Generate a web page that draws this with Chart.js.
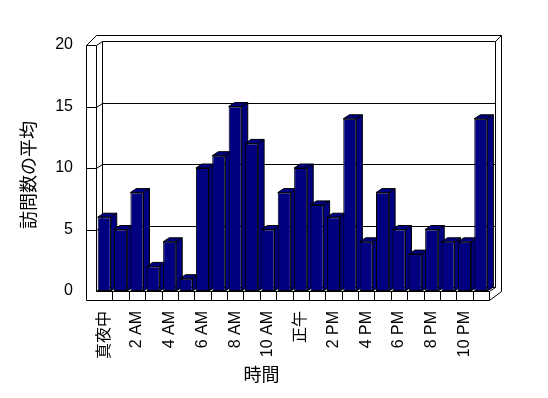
<!DOCTYPE html>
<html><head><meta charset="utf-8">
<script src="https://cdn.jsdelivr.net/npm/chart.js@4"></script>
<style>html,body{margin:0;padding:0;background:#fff;}canvas{display:block;}</style>
</head><body>
<canvas id="c" width="548" height="398"></canvas>
<script>
const categories = ['真夜中','1 AM','2 AM','3 AM','4 AM','5 AM','6 AM','7 AM','8 AM','9 AM','10 AM','11 AM','正午','1 PM','2 PM','3 PM','4 PM','5 PM','6 PM','7 PM','8 PM','9 PM','10 PM','11 PM'];
const visits = [6,5,8,2,4,1,10,11,15,12,5,8,10,7,6,14,4,8,5,3,5,4,4,14];
const yTickValues = [0,5,10,15,20];
const xTitle = '時間';
const yTitle = '訪問数の平均';

const LATIN = "'Liberation Sans', 'Noto Sans CJK JP', sans-serif";
const CJK = "'Noto Sans CJK JP', sans-serif";
const NAVY = '#000080';
const DX = 6, DY = -4;

function ln(ctx, x1, y1, x2, y2) {
  ctx.beginPath();
  ctx.moveTo(Math.round(x1) + 0.5, Math.round(y1) + 0.5);
  ctx.lineTo(Math.round(x2) + 0.5, Math.round(y2) + 0.5);
  ctx.stroke();
}

const box3d = {
  id: 'box3d',
  beforeDatasetsDraw(chart) {
    const { ctx, chartArea: a, scales: { y } } = chart;
    const L = a.left, R = a.right, T = a.top, B = a.bottom;
    const wallW = 10, floorH = 9;
    const outerTop = T + DY - 6;
    const outerRight = R + DX + 6;
    ctx.save();
    ctx.strokeStyle = '#000';
    ctx.lineWidth = 1;
    // left wall front face
    ln(ctx, L - wallW, T, L - wallW, B + floorH);
    ln(ctx, L, T, L, B);
    ln(ctx, L - wallW, T, L, T);
    // outer top
    ln(ctx, L - wallW, T, L, outerTop);
    ln(ctx, L, outerTop, outerRight, outerTop);
    ln(ctx, R + DX, T + DY, outerRight, outerTop);
    ln(ctx, outerRight, outerTop, outerRight, B);
    ln(ctx, outerRight, B, R, B + floorH);
    // back wall
    ln(ctx, L, T, L + DX, T + DY);
    ln(ctx, L + DX, T + DY, R + DX, T + DY);
    ln(ctx, L + DX, T + DY, L + DX, B + DY);
    ln(ctx, R + DX, T + DY, R + DX, B + DY);
    ln(ctx, L + DX, B + DY, R + DX, B + DY);
    ln(ctx, L, B, L + DX, B + DY);
    ln(ctx, R, B, R + DX, B + DY);
    // floor
    ln(ctx, L, B, R, B);
    ln(ctx, L - wallW, B + floorH, R, B + floorH);
    const n = categories.length;
    for (let k = 1; k <= n; k++) {
      const xx = L + k * (R - L) / n;
      ln(ctx, xx, B, xx, B + floorH);
    }
    // gridlines
    yTickValues.forEach(v => {
      if (v === 0 || v === 20) return;
      const yy = y.getPixelForValue(v);
      ln(ctx, L - wallW, yy, L, yy);
      ln(ctx, L, yy, L + DX, yy + DY);
      ln(ctx, L + DX, yy + DY, R + DX, yy + DY);
    });
    // bar tops and sides
    const meta = chart.getDatasetMeta(0);
    meta.data.forEach(el => {
      const p = el.getProps(['x', 'y', 'base', 'width'], true);
      const l = p.x - p.width / 2, r = p.x + p.width / 2, t = p.y, b = p.base;
      ctx.fillStyle = NAVY;
      ctx.beginPath();
      ctx.moveTo(r, t); ctx.lineTo(r + DX, t + DY); ctx.lineTo(r + DX, b + DY); ctx.lineTo(r, b); ctx.closePath();
      ctx.fill(); ctx.stroke();
      ctx.beginPath();
      ctx.moveTo(l, t); ctx.lineTo(l + DX, t + DY); ctx.lineTo(r + DX, t + DY); ctx.lineTo(r, t); ctx.closePath();
      ctx.fill(); ctx.stroke();
    });
    ctx.restore();
  },
  afterDraw(chart) {
    const { ctx } = chart;
    ctx.save();
    ctx.fillStyle = '#000';
    ctx.font = '18px ' + CJK;
    ctx.textAlign = 'center';
    ctx.textBaseline = 'middle';
    ctx.fillText(xTitle, 261.5, 374);
    ctx.translate(28.5, 175);
    ctx.rotate(-Math.PI / 2);
    ctx.fillText(yTitle, 0, 0);
    ctx.restore();
  }
};

new Chart(document.getElementById('c'), {
  type: 'bar',
  data: {
    labels: categories,
    datasets: [{
      data: visits,
      backgroundColor: NAVY,
      borderColor: '#000',
      borderWidth: 1,
      borderSkipped: false,
      barPercentage: 0.8,
      categoryPercentage: 1.0
    }]
  },
  options: {
    responsive: false,
    devicePixelRatio: 1,
    animation: false,
    layout: { padding: { top: 45, right: 59, left: 0, bottom: 0 } },
    plugins: { legend: { display: false }, tooltip: { enabled: false } },
    scales: {
      x: {
        grid: { display: false, drawTicks: false },
        border: { display: false },
        ticks: {
          autoSkip: false, minRotation: 90, maxRotation: 90, padding: 20,
          color: '#000', font: { size: 16, family: LATIN },
          callback: (v, i) => (i % 2 === 0 ? categories[i] : '')
        },
        afterFit: s => { s.height = 107; }
      },
      y: {
        min: 0, max: 20,
        grid: { display: false, drawTicks: false },
        border: { display: false },
        ticks: {
          stepSize: 5, padding: 23, color: '#000', font: { size: 16, family: LATIN }
        },
        afterFit: s => { s.width = 96; }
      }
    }
  },
  plugins: [box3d]
});
</script>
</body></html>
